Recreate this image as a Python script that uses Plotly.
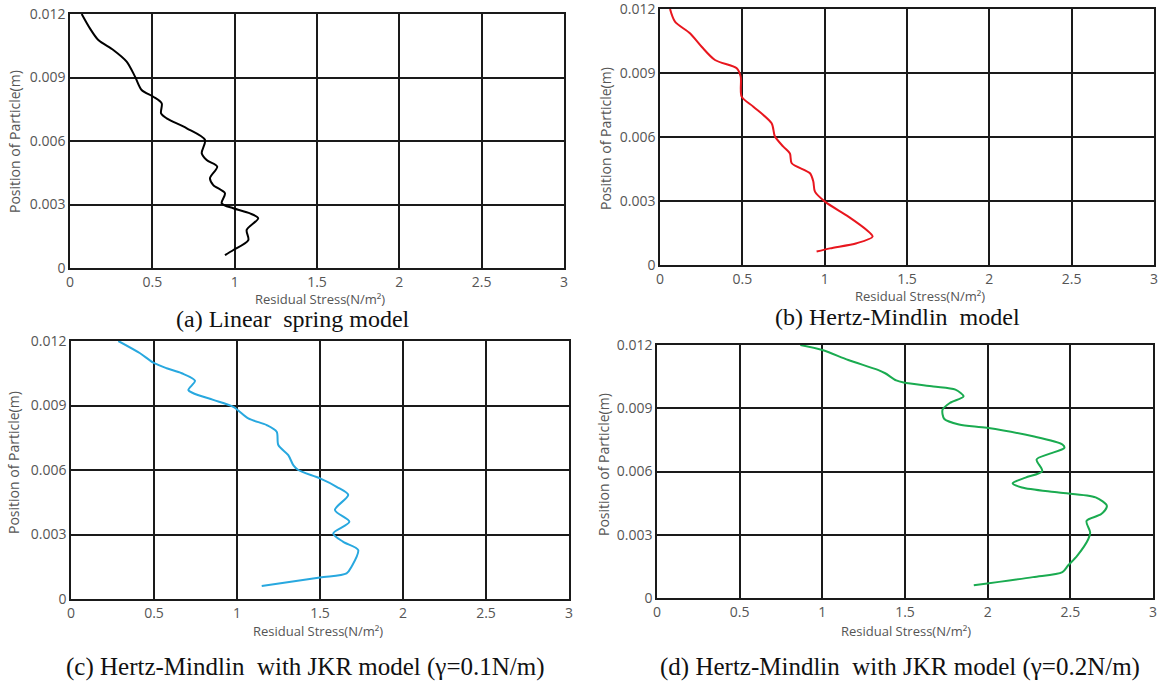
import plotly.graph_objects as go

# ---- data ----
a_x = [0.071, 0.121, 0.172, 0.263, 0.344, 0.395, 0.435, 0.506, 0.557, 0.553, 0.587, 0.709, 0.820, 0.800, 0.830, 0.894, 0.850, 0.870, 0.941, 0.921, 0.992, 1.093, 1.143, 1.073, 1.083, 0.992, 0.941]
a_y = [0.0120, 0.01132, 0.01077, 0.0103, 0.00975, 0.00904, 0.00841, 0.00809, 0.00778, 0.00731, 0.00707, 0.0066, 0.00605, 0.00542, 0.0051, 0.00479, 0.00424, 0.00392, 0.00353, 0.00306, 0.00282, 0.00258, 0.00235, 0.0018, 0.00132, 0.00085, 0.00061]

b_x = [0.061, 0.091, 0.182, 0.253, 0.334, 0.466, 0.490, 0.496, 0.567, 0.678, 0.698, 0.749, 0.789, 0.800, 0.911, 0.931, 0.941, 1.002, 1.144, 1.255, 1.291, 1.194, 1.032, 0.951]
b_y = [0.0120, 0.01141, 0.01086, 0.01023, 0.00961, 0.00922, 0.00883, 0.00789, 0.00742, 0.00664, 0.00602, 0.00555, 0.00523, 0.00477, 0.0043, 0.00391, 0.00344, 0.00297, 0.00227, 0.00164, 0.00133, 0.00102, 0.00078, 0.00063]

c_x = [0.285, 0.416, 0.496, 0.576, 0.667, 0.747, 0.707, 0.737, 0.857, 0.978, 1.068, 1.179, 1.239, 1.249, 1.309, 1.339, 1.369, 1.50, 1.60, 1.67, 1.59, 1.677, 1.58, 1.64, 1.73, 1.69, 1.66, 1.50, 1.149]
c_y = [0.0120, 0.01143, 0.01099, 0.01073, 0.0105, 0.01015, 0.00972, 0.00957, 0.00926, 0.00894, 0.0084, 0.00809, 0.00778, 0.00716, 0.00669, 0.00623, 0.0060, 0.00561, 0.00522, 0.00484, 0.00414, 0.00359, 0.00305, 0.00266, 0.00228, 0.0015, 0.00119, 0.0010, 0.0006]

d_x = [0.867, 1.0, 1.157, 1.336, 1.380, 1.447, 1.492, 1.671, 1.805, 1.854, 1.771, 1.727, 1.738, 1.827, 1.995, 2.274, 2.452, 2.464, 2.363, 2.296, 2.330, 2.229, 2.151, 2.207, 2.430, 2.653, 2.721, 2.687, 2.598, 2.620, 2.609, 2.542, 2.486, 2.452, 2.274, 1.916]
d_y = [0.0120, 0.01176, 0.01129, 0.01082, 0.01066, 0.01032, 0.01022, 0.01003, 0.00988, 0.00956, 0.00925, 0.00893, 0.00849, 0.00823, 0.00807, 0.00767, 0.00728, 0.00712, 0.00681, 0.00657, 0.00602, 0.00571, 0.00544, 0.00524, 0.0050, 0.00477, 0.00437, 0.00398, 0.00366, 0.00311, 0.0028, 0.00201, 0.00154, 0.00123, 0.00099, 0.0006]

x_ticks = [0, 0.5, 1, 1.5, 2, 2.5, 3]
x_ticktext = ["0", "0.5", "1", "1.5", "2", "2.5", "3"]
y_ticks = [0, 0.003, 0.006, 0.009, 0.012]
y_ticktext = ["0", "0.003", "0.006", "0.009", "0.012"]

captions = [
    "(a) Linear\u00a0 spring model",
    "(b) Hertz-Mindlin\u00a0 model",
    "(c) Hertz-Mindlin\u00a0 with JKR model (\u03b3=0.1N/m)",
    "(d) Hertz-Mindlin\u00a0 with JKR model (\u03b3=0.2N/m)",
]
x_title = "Residual Stress(N/m\u00b2)"
y_title = "Position of Particle(m)"

W, H = 1169, 681
# pixel boxes: (left, right, top, bottom)
boxes = [(70, 564, 14, 268), (660, 1154, 9, 265), (71, 569, 341, 599), (657, 1153, 345, 598)]
series = [(a_x, a_y, "#000000"), (b_x, b_y, "#e8161e"), (c_x, c_y, "#28a8df"), (d_x, d_y, "#1aab50")]
# text anchor pixels: x-title (x, y), y-title (x, y), caption (x, y)
text_pos = [
    ((320, 299), (14, 142), (293, 319)),
    ((920, 296), (605, 139), (897, 317)),
    ((318, 631), (14, 463), (305, 667)),
    ((906, 631), (603, 465), (900, 667)),
]

fig = go.Figure()
tick_font = dict(family="Open Sans", size=14, color="#555555")
ann = []
for i, ((L, R, T, B), (xs, ys, col)) in enumerate(zip(boxes, series)):
    n = "" if i == 0 else str(i + 1)
    fig.add_trace(go.Scatter(x=xs, y=ys, mode="lines", line=dict(color=col, width=2, shape="spline", smoothing=0.8),
                             xaxis="x" + n, yaxis="y" + n, showlegend=False, hoverinfo="skip"))
    ax = dict(range=[0, 3], tickvals=x_ticks, ticktext=x_ticktext, showgrid=True, gridcolor="#1a1a1a", gridwidth=1.5,
              showline=True, linecolor="#1a1a1a", linewidth=1.5, mirror=True, zeroline=False, ticks="",
              tickfont=tick_font, domain=[L / W, R / W], anchor="y" + n, fixedrange=True, automargin=False,
              ticklabeloverflow="allow")
    ay = dict(range=[0, 0.012], tickvals=y_ticks, ticktext=y_ticktext, showgrid=True, gridcolor="#1a1a1a", gridwidth=1.5,
              showline=True, linecolor="#1a1a1a", linewidth=1.5, mirror=True, zeroline=False, ticks="",
              tickfont=tick_font, domain=[1 - B / H, 1 - T / H], anchor="x" + n, fixedrange=True, automargin=False,
              ticklabeloverflow="allow")
    fig.layout["xaxis" + n] = ax
    fig.layout["yaxis" + n] = ay
    (xt, yt, cp) = text_pos[i]
    ann.append(dict(text=x_title, x=xt[0] / W, y=1 - xt[1] / H, xref="paper", yref="paper",
                    showarrow=False, font=dict(family="Open Sans", size=13, color="#555555"), xanchor="center", yanchor="middle"))
    ann.append(dict(text=y_title, x=yt[0] / W, y=1 - yt[1] / H, xref="paper", yref="paper", textangle=-90,
                    showarrow=False, font=dict(family="Open Sans", size=14, color="#555555"), xanchor="center", yanchor="middle"))
    ann.append(dict(text=captions[i], x=cp[0] / W, y=1 - cp[1] / H,
                    xref="paper", yref="paper", showarrow=False,
                    font=dict(family="Liberation Serif", size=24 if i < 2 else 25, color="#111111"),
                    xanchor="center", yanchor="middle"))

fig.update_layout(width=W, height=H, autosize=False, margin=dict(l=0, r=0, t=0, b=0, pad=0, autoexpand=False),
                  paper_bgcolor="white", plot_bgcolor="white", showlegend=False,
                  annotations=ann)
fig.write_html("out.html", config={"responsive": False, "displayModeBar": False},
               post_script="document.body.style.margin='0';document.body.style.overflow='hidden';")
